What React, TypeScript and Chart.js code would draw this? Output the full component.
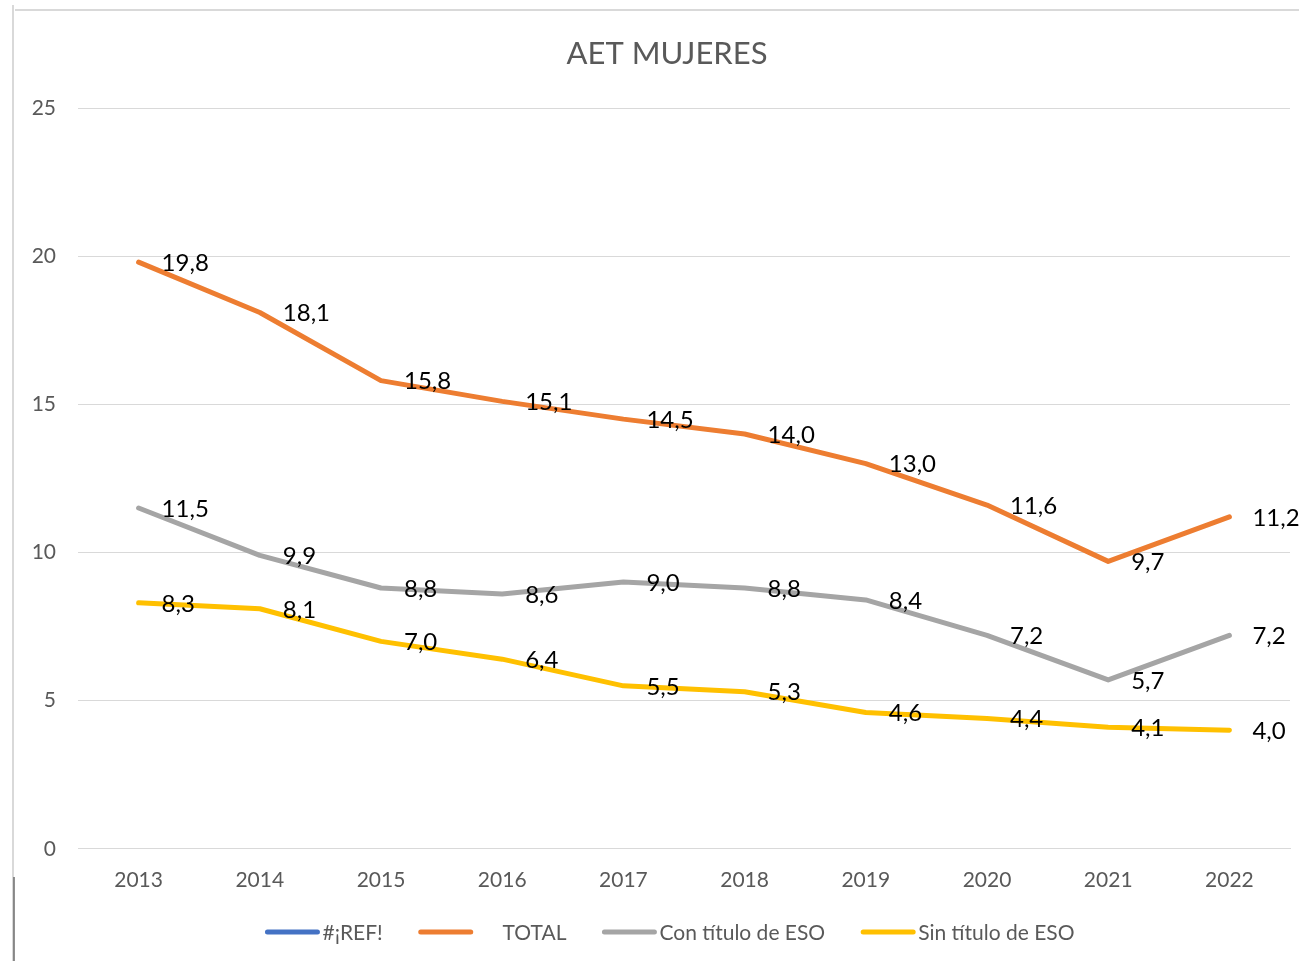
import React, { useEffect, useRef } from "react";
import { Chart, registerables } from "chart.js";

Chart.register(...registerables);

const titleText = "AET MUJERES";
const categories = ["2013", "2014", "2015", "2016", "2017", "2018", "2019", "2020", "2021", "2022"];
const refValues: (number | null)[] = [];
const totalValues = [19.8, 18.1, 15.8, 15.1, 14.5, 14.0, 13.0, 11.6, 9.7, 11.2];
const conTituloValues = [11.5, 9.9, 8.8, 8.6, 9.0, 8.8, 8.4, 7.2, 5.7, 7.2];
const sinTituloValues = [8.3, 8.1, 7.0, 6.4, 5.5, 5.3, 4.6, 4.4, 4.1, 4.0];
const seriesLabels = ["#¡REF!", "     TOTAL", "Con título de ESO", "Sin título de ESO"];
const seriesColors = ["#4472C4", "#ED7D31", "#A5A5A5", "#FFC000"];
const yTicks = [0, 5, 10, 15, 20, 25];

const FONT = "Lato, 'Open Sans', sans-serif";

const framePlugin = {
  id: "frame",
  beforeDraw(chart: any) {
    const ctx = chart.ctx;
    ctx.save();
    ctx.strokeStyle = "#d9d9d9";
    ctx.lineWidth = 2;
    ctx.beginPath();
    ctx.moveTo(13, 5);
    ctx.lineTo(13, 961);
    ctx.moveTo(15, 10);
    ctx.lineTo(1299, 10);
    ctx.stroke();
    ctx.strokeStyle = "#6b6b6b";
    ctx.lineWidth = 1.5;
    ctx.beginPath();
    ctx.moveTo(14, 877);
    ctx.lineTo(14, 961);
    ctx.stroke();
    ctx.restore();
  },
};

const titlePlugin = {
  id: "customTitle",
  afterDraw(chart: any) {
    const ctx = chart.ctx;
    ctx.save();
    ctx.font = `31px ${FONT}`;
    ctx.fillStyle = "#595959";
    ctx.textAlign = "center";
    ctx.textBaseline = "middle";
    ctx.fillText(titleText, 667, 54);
    ctx.restore();
  },
};

const dataLabelPlugin = {
  id: "dataLabels",
  afterDatasetsDraw(chart: any) {
    const ctx = chart.ctx;
    ctx.save();
    ctx.font = `24px ${FONT}`;
    ctx.fillStyle = "#000000";
    ctx.textAlign = "left";
    ctx.textBaseline = "middle";
    chart.data.datasets.forEach((ds: any, i: number) => {
      const meta = chart.getDatasetMeta(i);
      meta.data.forEach((el: any, j: number) => {
        const v = ds.data[j];
        if (v === null || v === undefined) return;
        ctx.fillText(Number(v).toFixed(1).replace(".", ","), el.x + 23, el.y + 1);
      });
    });
    ctx.restore();
  },
};

const legendPlugin = {
  id: "customLegend",
  afterDraw(chart: any) {
    const ctx = chart.ctx;
    ctx.save();
    ctx.font = `21px ${FONT}`;
    const lineLen = 54;
    const gap = 3;
    const itemGap = 36;
    const items = chart.data.datasets.map((ds: any) => ({
      label: ds.label,
      color: ds.borderColor,
      w: ctx.measureText(ds.label).width,
    }));
    const total = items.reduce((s: number, it: any) => s + lineLen + gap + it.w, 0) + itemGap * (items.length - 1);
    let x = 670 - total / 2;
    const y = 932;
    ctx.textBaseline = "middle";
    ctx.textAlign = "left";
    items.forEach((it: any) => {
      ctx.strokeStyle = it.color;
      ctx.lineWidth = 5;
      ctx.lineCap = "round";
      ctx.beginPath();
      ctx.moveTo(x + 2, y);
      ctx.lineTo(x + lineLen - 2, y);
      ctx.stroke();
      ctx.fillStyle = "#595959";
      ctx.fillText(it.label, x + lineLen + gap, y + 1);
      x += lineLen + gap + it.w + itemGap;
    });
    ctx.restore();
  },
};

export default function App() {
  const canvasRef = useRef<HTMLCanvasElement | null>(null);

  useEffect(() => {
    if (!canvasRef.current) return;
    const allValues = [refValues, totalValues, conTituloValues, sinTituloValues];
    const chart = new Chart(canvasRef.current, {
      type: "line",
      data: {
        labels: categories,
        datasets: allValues.map((vals, i) => ({
          label: seriesLabels[i],
          data: vals,
          borderColor: seriesColors[i],
          backgroundColor: seriesColors[i],
          borderWidth: 5,
          pointRadius: 0,
          pointHoverRadius: 0,
          tension: 0,
          fill: false,
          borderJoinStyle: "round" as const,
          borderCapStyle: "round" as const,
        })),
      },
      options: {
        animation: false,
        responsive: false,
        maintainAspectRatio: false,
        events: [],
        layout: { padding: { top: 108, left: 14, right: 9, bottom: 49 } },
        plugins: {
          legend: { display: false },
          tooltip: { enabled: false },
          title: { display: false },
        },
        scales: {
          x: {
            type: "category",
            offset: true,
            grid: { display: false, drawTicks: false },
            border: { display: true, color: "#d9d9d9", width: 1 },
            ticks: {
              color: "#595959",
              font: { family: FONT, size: 21 },
              padding: 19,
              maxRotation: 0,
              autoSkip: false,
            },
          },
          y: {
            min: 0,
            max: 25,
            afterBuildTicks: (scale: any) => {
              scale.ticks = yTicks.map((v) => ({ value: v }));
            },
            afterFit: (scale: any) => {
              scale.width = 64;
            },
            grid: { color: "#d9d9d9", lineWidth: 1, drawTicks: false },
            border: { display: false },
            ticks: {
              color: "#595959",
              font: { family: FONT, size: 21 },
              padding: 22,
            },
          },
        },
      },
      plugins: [framePlugin, titlePlugin, dataLabelPlugin, legendPlugin],
    });
    return () => chart.destroy();
  }, []);

  return (
    <div style={{ position: "absolute", left: 0, top: 0, width: 1299, height: 961, background: "#fff" }}>
      <canvas ref={canvasRef} width={1299} height={961} style={{ width: 1299, height: 961, display: "block" }} />
    </div>
  );
}
